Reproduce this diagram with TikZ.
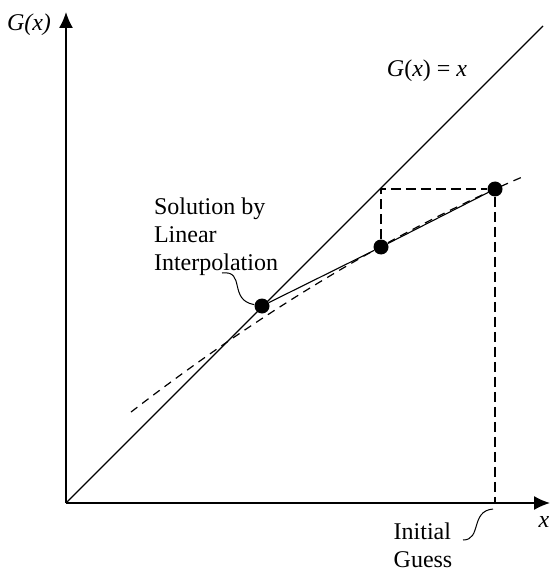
\documentclass[tikz,border=0pt]{standalone}
\usepackage{fontspec}
\setmainfont{Liberation Serif}
\usetikzlibrary{arrows.meta}
\begin{document}
\begin{tikzpicture}[x=0.5pt,y=-0.5pt,
  axis/.style={line width=0.75pt,-{Latex[length=8pt,width=7pt]}},
  diag/.style={line width=0.55pt},
  secant/.style={line width=0.55pt},
  guide/.style={line width=1pt,dash pattern=on 5pt off 2.5pt},
  gcurve/.style={line width=0.6pt,dash pattern=on 4pt off 3pt},
  dot/.style={circle,fill=black,inner sep=0pt,minimum size=7.5pt},
  lbl/.style={font=\fontsize{12}{14}\selectfont,inner sep=0pt},
  lead/.style={line width=0.5pt}]
\useasboundingbox (0,0) rectangle (551,572);
% axes
\coordinate (O) at (66,503);
\coordinate (Xend) at (550,503);
\coordinate (Yend) at (66,12);
\coordinate (Dend) at (543,26);
\draw[axis] (O) -- (Xend);
\draw[axis] (O) -- (Yend);
\draw[diag] (O) -- (Dend);
% G curve (dashed)
\draw[gcurve] plot[domain=131:525,samples=60,smooth]
  (\x,{464-0.8275*(\x-66)+4.35*((\x-66)/100)^2});
% points
\node[dot] (p1) at (262,306) {};
\node[dot] (p2) at (381,247) {};
\node[dot] (p3) at (495,189) {};
\coordinate (c2) at (381,189);
\coordinate (f3) at (495,503);
% secant
\draw[secant] (p1) -- (p2) -- (p3);
% guides
\draw[guide] (p2) -- (c2) -- (p3);
\draw[guide] (p3) -- (f3);
% labels
\node[lbl] (gy) at (29,25) {\textit{G(x)}};
\node[lbl] (gx) at (427,71) {\textit{G}(\textit{x}) = \textit{x}};
\node[lbl] (xl) at (544,522) {\textit{x}};
\node[lbl,align=left] (sol) at (216,237) {Solution by\\Linear\\Interpolation};
\node[lbl,align=left] (ig) at (423,545) {Initial\\Guess};
% leaders
\coordinate (s1) at (222,273);
\draw[lead] (s1) .. controls (246,270) and (228,300) .. (p1);
\coordinate (s2) at (463,540);
\coordinate (e2) at (493,509);
\draw[lead] (s2) .. controls (482,540) and (470,511) .. (e2);
\end{tikzpicture}
\end{document}
